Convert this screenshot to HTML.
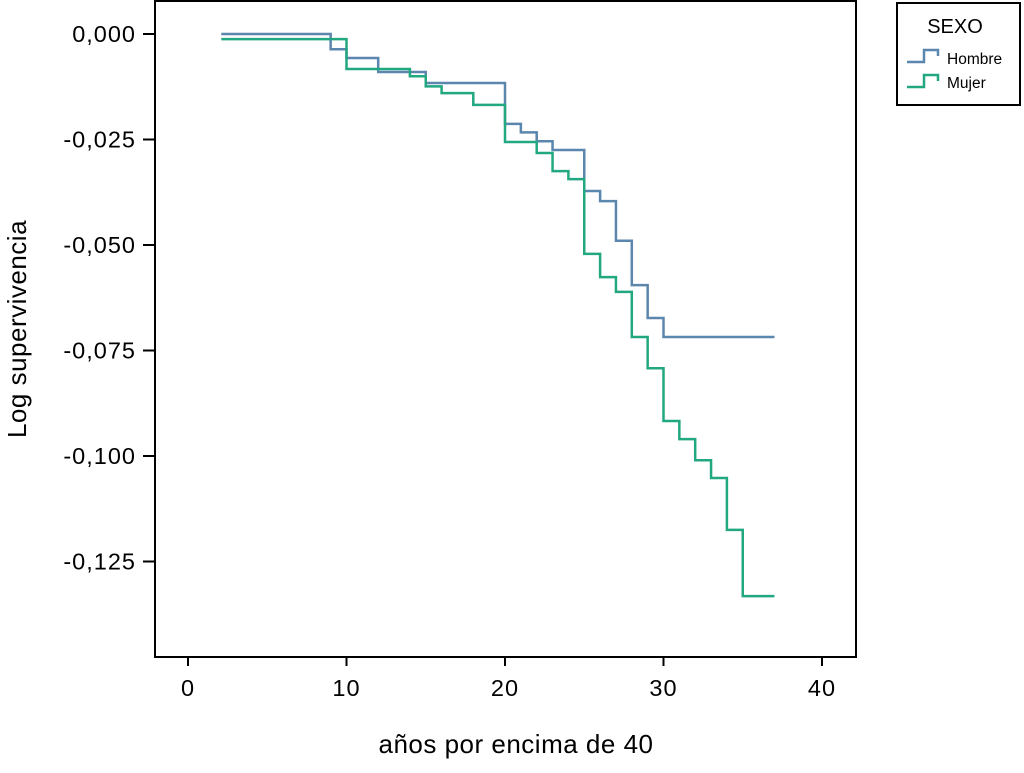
<!DOCTYPE html>
<html><head><meta charset="utf-8"><style>
body{margin:0;background:#fff;width:1024px;height:768px;overflow:hidden;font-family:"Liberation Sans",sans-serif}
</style></head><body>
<svg width="1024" height="768" xmlns="http://www.w3.org/2000/svg">
<rect x="155" y="1" width="701" height="656" fill="none" stroke="#000" stroke-width="2"/>
<g id="axes" font-size="23.5" letter-spacing="1" fill="#000"></g>
<g id="series"></g>
<text x="26" y="329" font-size="26" letter-spacing="0.5" text-anchor="middle" transform="rotate(-90 26 329)">Log supervivencia</text>
<text x="516" y="753" font-size="26" letter-spacing="0.5" text-anchor="middle">años por encima de 40</text>
<g>
<rect x="897" y="3" width="123" height="102" fill="#fff" stroke="#000" stroke-width="2"/>
<text x="955" y="33" font-size="20" text-anchor="middle">SEXO</text>
<g>
<path d="M907 62 H924 V50 H938 V56" fill="none" stroke="#5b86ad" stroke-width="2.5"/>
<text x="947" y="64" font-size="15.5">Hombre</text></g>
<g>
<path d="M907 87 H924 V75 H938 V81" fill="none" stroke="#22a880" stroke-width="2.5"/>
<text x="947" y="88" font-size="15.5">Mujer</text></g>
</g>
</svg>
<script>
const xTicks=[0,10,20,30,40];
const yTicks=[0,-0.025,-0.05,-0.075,-0.1,-0.125];
const yTickLabels=["0,000","-0,025","-0,050","-0,075","-0,100","-0,125"];
const hombreT=[2.1,9,10,12,15,20,21,22,23,25,26,27,28,29,30,37];
const hombreV=[0,-0.0036,-0.0057,-0.009,-0.0116,-0.0213,-0.0233,-0.0254,-0.0275,-0.0372,-0.0396,-0.049,-0.0595,-0.0673,-0.0718,-0.0718];
const mujerT=[2.1,10,14,15,16,18,20,22,23,24,25,26,27,28,29,30,31,32,33,34,35,37];
const mujerV=[-0.0012,-0.0083,-0.010,-0.0124,-0.014,-0.0168,-0.0256,-0.0282,-0.0325,-0.0344,-0.0521,-0.0576,-0.0611,-0.0718,-0.0792,-0.0917,-0.096,-0.101,-0.1052,-0.1175,-0.1332,-0.1332];
const xs=t=>188+t*15.85;
const ys=v=>34-v*4220;
const NS="http://www.w3.org/2000/svg";
const axes=document.getElementById('axes');
xTicks.forEach(t=>{
  const l=document.createElementNS(NS,'line');
  l.setAttribute('x1',xs(t));l.setAttribute('x2',xs(t));l.setAttribute('y1',657);l.setAttribute('y2',666);l.setAttribute('stroke','#000');l.setAttribute('stroke-width','2');
  
  
  axes.appendChild(l);
  const tx=document.createElementNS(NS,'text');
  tx.setAttribute('x',xs(t));tx.setAttribute('y',696);tx.setAttribute('text-anchor','middle');tx.textContent=t;
  
  
  axes.appendChild(tx);
});
yTicks.forEach((v,i)=>{
  const l=document.createElementNS(NS,'line');
  l.setAttribute('x1',143);l.setAttribute('x2',155);l.setAttribute('y1',ys(v));l.setAttribute('y2',ys(v));l.setAttribute('stroke','#000');l.setAttribute('stroke-width','2');
  
  
  axes.appendChild(l);
  const tx=document.createElementNS(NS,'text');
  tx.setAttribute('x',136);tx.setAttribute('y',ys(v)+8);tx.setAttribute('text-anchor','end');tx.textContent=yTickLabels[i];
  
  
  axes.appendChild(tx);
});
function step(T,V,color,name){
  let d='M'+xs(T[0])+' '+ys(V[0]);
  for(let i=1;i<T.length;i++){d+=' H'+xs(T[i])+' V'+ys(V[i]);}
  const p=document.createElementNS(NS,'path');
  p.setAttribute('d',d);p.setAttribute('fill','none');p.setAttribute('stroke',color);p.setAttribute('stroke-width','2.5');
  
  
  document.getElementById('series').appendChild(p);
}
step(hombreT,hombreV,'#5b86ad','hombre-line');
step(mujerT,mujerV,'#22a880','mujer-line');
</script>
</body></html>
